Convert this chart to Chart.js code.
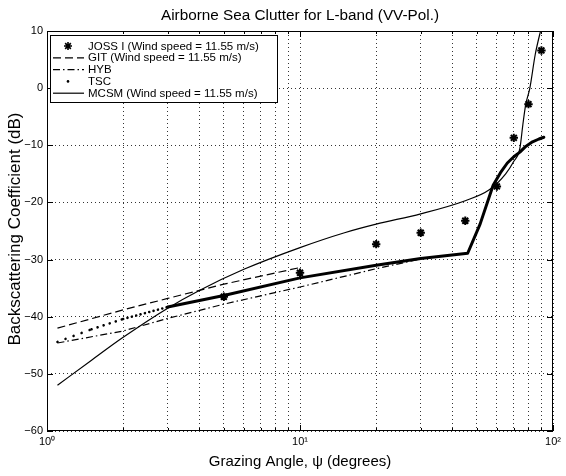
<!DOCTYPE html>
<html>
<head>
<meta charset="utf-8">
<script src="https://cdn.jsdelivr.net/npm/chart.js@4.4.1/dist/chart.umd.min.js"></script>
<style>
  html, body { margin: 0; padding: 0; background: #fff; }
  canvas { display: block; }
</style>
</head>
<body>
<canvas id="clutterChart" width="566" height="476"></canvas>
<script>
// JOSS I measurements (wind speed 11.55 m/s)
const jossAngle = [5, 10, 20, 30, 45, 60, 70, 80, 90];
const jossSigma = [-36.5, -32.3, -27.3, -25.3, -23.2, -17.2, -8.7, -2.8, 6.6];

// GIT model
const gitAngle = [1.1, 2, 3, 5, 10];
const gitSigma = [-42, -38.8, -36.8, -34.3, -31.4];

// HYB model
const hybAngle = [1.1, 2, 3, 5, 10, 20, 30];
const hybSigma = [-44.6, -42.5, -40.3, -37.8, -34.8, -31.6, -29.9];

// TSC model
const tscAngle = [1.1, 1.5, 2, 3, 5, 10, 20, 30, 46, 51.5, 58, 62, 66, 70, 74, 78, 83, 88, 92];
const tscSigma = [-44.4, -42.2, -40.4, -38.3, -36.3, -33.2, -31, -29.8, -28.9, -23.8, -17, -14.8, -13.1, -12, -11.2, -10.2, -9.4, -8.9, -8.6];

// MCSM model (wind speed 11.55 m/s)
const mcsmAngle = [1.1, 1.5, 2, 3, 4, 6, 10, 15, 20, 30, 45, 56, 65, 70, 74, 76, 78, 81, 85, 88.5, 92];
const mcsmSigma = [-52, -47.6, -43.6, -38.5, -35.4, -31.7, -27.9, -25.3, -23.8, -22, -19.7, -17.8, -15, -12.8, -10.5, -6.4, -2.9, 0, 5.8, 9.3, 12];

// axes
const xGridValues = [1, 2, 3, 4, 5, 6, 7, 8, 9, 10, 20, 30, 40, 50, 60, 70, 80, 90, 100];
const xDecades = [1, 10, 100];
const xDecadeLabels = ['10⁰', '10¹', '10²'];
const yTickValues = [10, 0, -10, -20, -30, -40, -50, -60];

const FONT = '"Liberation Sans", Arial, Helvetica, sans-serif';

const toPoints = (xs, ys) => xs.map((x, i) => ({ x: x, y: ys[i] }));

// TSC is a dense run of dots: looks dotted at small angles, solid further right
function tscDash(seg) {
  const x0 = seg.p0.parsed.x, x1 = seg.p1.parsed.x;
  if (x0 >= 3) return undefined;
  const xm = Math.sqrt(x0 * x1);
  return [0.01, 11 / xm];
}

const ctx = document.getElementById('clutterChart').getContext('2d');

// frame, titles and the boxed legend, drawn the matlab way
const decorations = {
  id: 'decorations',
  afterDraw(chart) {
    const c = chart.ctx;
    const a = chart.chartArea;
    const xs = chart.scales.x, ys = chart.scales.y;
    c.save();
    c.strokeStyle = '#000';
    c.fillStyle = '#000';
    c.lineWidth = 1;
    c.setLineDash([]);

    // box
    c.strokeRect(a.left + 0.5, a.top + 0.5, a.right - a.left - 1, a.bottom - a.top - 1);

    // inward ticks
    c.beginPath();
    xGridValues.forEach(v => {
      const px = Math.round(xs.getPixelForValue(v)) + 0.5;
      const len = xDecades.includes(v) ? 6 : 3;
      c.moveTo(px, a.bottom); c.lineTo(px, a.bottom - len);
      c.moveTo(px, a.top); c.lineTo(px, a.top + len);
    });
    yTickValues.forEach(v => {
      const py = Math.round(ys.getPixelForValue(v)) + 0.5;
      c.moveTo(a.left, py); c.lineTo(a.left + 6, py);
      c.moveTo(a.right, py); c.lineTo(a.right - 6, py);
    });
    c.stroke();

    // title and axis titles
    c.textAlign = 'center';
    c.textBaseline = 'middle';
    c.font = '15.3px ' + FONT;
    c.fillText('Airborne Sea Clutter for L-band (VV-Pol.)', (a.left + a.right) / 2, 16);
    c.font = '15px ' + FONT;
    c.fillText('Grazing Angle, ψ (degrees)', (a.left + a.right) / 2, 462);
    c.save();
    c.translate(15, 229);
    c.rotate(-Math.PI / 2);
    c.font = '17px ' + FONT;
    c.fillText('Backscattering Coefficient (dB)', 0, 0);
    c.restore();

    // legend
    const lx = 50, ly = 35, lw = 227, lh = 67;
    c.fillStyle = '#fff';
    c.fillRect(lx, ly, lw, lh);
    c.strokeRect(lx + 0.5, ly + 0.5, lw, lh);
    c.fillStyle = '#000';
    c.font = '11.5px ' + FONT;
    c.textAlign = 'left';
    chart.data.datasets.forEach((ds, i) => {
      const ry = ly + 11 + i * 11.8;
      if (ds.legendKind === 'star') {
        c.lineWidth = 1.6;
        c.beginPath();
        for (let k = 0; k < 4; k++) {
          const ang = k * Math.PI / 4;
          c.moveTo(68 - 4 * Math.cos(ang), ry - 4 * Math.sin(ang));
          c.lineTo(68 + 4 * Math.cos(ang), ry + 4 * Math.sin(ang));
        }
        c.stroke();
      } else if (ds.legendKind === 'dot') {
        c.beginPath();
        c.arc(68, ry, 1.3, 0, Math.PI * 2);
        c.fill();
      } else {
        c.lineWidth = ds.borderWidth;
        c.setLineDash(ds.borderDash || []);
        c.beginPath();
        c.moveTo(53, ry); c.lineTo(84, ry);
        c.stroke();
        c.setLineDash([]);
      }
      c.fillText(ds.label, 88, ry + 0.5);
    });
    c.restore();
  }
};

const chart = new Chart(ctx, {
  type: 'line',
  data: {
    datasets: [
      {
        label: 'JOSS I (Wind speed = 11.55 m/s)',
        legendKind: 'star',
        data: toPoints(jossAngle, jossSigma),
        showLine: false,
        pointStyle: 'star',
        pointRadius: 4.2,
        pointBorderWidth: 2,
        pointBorderColor: '#000',
        pointBackgroundColor: '#000',
        borderColor: '#000'
      },
      {
        label: 'GIT (Wind speed = 11.55 m/s)',
        data: toPoints(gitAngle, gitSigma),
        borderColor: '#000',
        borderWidth: 1.2,
        borderDash: [8, 4],
        pointRadius: 0
      },
      {
        label: 'HYB',
        data: toPoints(hybAngle, hybSigma),
        borderColor: '#000',
        borderWidth: 1.2,
        borderDash: [7, 3, 1.5, 3],
        pointRadius: 0
      },
      {
        label: 'TSC',
        legendKind: 'dot',
        data: toPoints(tscAngle, tscSigma),
        borderColor: '#000',
        borderWidth: 3,
        borderCapStyle: 'round',
        borderJoinStyle: 'round',
        pointRadius: 0,
        segment: {
          borderDash: tscDash,
          borderWidth: seg => (seg.p0.parsed.x < 3 ? 2.6 : 3)
        }
      },
      {
        label: 'MCSM (Wind speed = 11.55 m/s)',
        data: toPoints(mcsmAngle, mcsmSigma),
        borderColor: '#000',
        borderWidth: 1.2,
        cubicInterpolationMode: 'monotone',
        pointRadius: 0
      }
    ]
  },
  options: {
    responsive: false,
    animation: false,
    layout: { padding: { top: 31, right: 13, left: 0, bottom: 0 } },
    plugins: {
      legend: { display: false },
      title: { display: false },
      tooltip: { enabled: false }
    },
    scales: {
      x: {
        type: 'logarithmic',
        min: 1,
        max: 100,
        afterBuildTicks: s => { s.ticks = xGridValues.map(v => ({ value: v })); },
        afterFit: s => { s.height = 45; },
        grid: { color: '#000', lineWidth: 0.8, drawTicks: false },
        border: { display: false, dash: [1, 3] },
        ticks: {
          color: '#000',
          font: { family: FONT, size: 11 },
          padding: 4,
          autoSkip: false,
          maxRotation: 0,
          callback: v => {
            const i = xDecades.indexOf(v);
            return i >= 0 ? xDecadeLabels[i] : '';
          }
        }
      },
      y: {
        type: 'linear',
        min: -60,
        max: 10,
        afterBuildTicks: s => { s.ticks = yTickValues.map(v => ({ value: v })); },
        afterFit: s => { s.width = 47; },
        grid: { color: '#000', lineWidth: 0.8, drawTicks: false },
        border: { display: false, dash: [1, 3] },
        ticks: {
          color: '#000',
          font: { family: FONT, size: 11 },
          padding: 4,
          callback: v => (v < 0 ? '−' + Math.abs(v) : String(v))
        }
      }
    }
  },
  plugins: [decorations]
});
</script>
</body>
</html>
